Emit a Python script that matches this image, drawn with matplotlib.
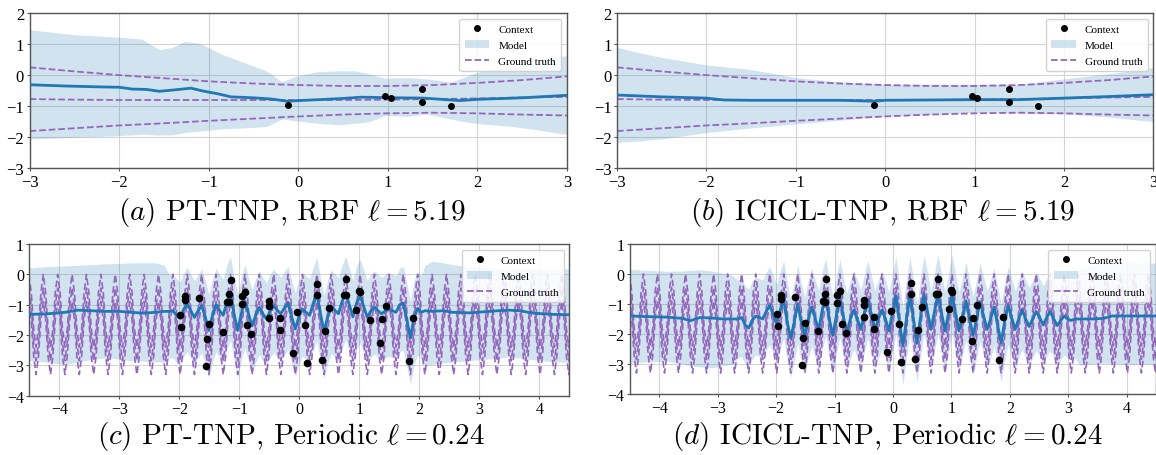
import numpy as np
import matplotlib.pyplot as plt
from matplotlib.patches import Patch
from matplotlib.lines import Line2D

plt.rcParams['font.family'] = ['Liberation Serif', 'DejaVu Serif']
plt.rcParams['mathtext.fontset'] = 'cm'

# ---------------- RBF panels (a, b) ----------------
rbf_ctx_x = [-0.12, 0.97, 1.03, 1.38, 1.38, 1.71]
rbf_ctx_y = [-0.96, -0.67, -0.74, -0.45, -0.88, -0.99]

rbf_gt_x = [-3, -2.5, -2, -1.5, -1, -0.5, 0, 0.5, 1, 1.5, 2, 2.5, 3]
rbf_gt_mean = [-0.77, -0.79, -0.8, -0.8, -0.8, -0.8, -0.8, -0.8, -0.79, -0.77, -0.75, -0.72, -0.7]
rbf_gt_up = [0.25, 0.12, 0.0, -0.1, -0.2, -0.27, -0.32, -0.35, -0.35, -0.32, -0.25, -0.16, -0.04]
rbf_gt_lo = [-1.8, -1.71, -1.62, -1.55, -1.47, -1.4, -1.33, -1.27, -1.23, -1.21, -1.23, -1.27, -1.3]

a_x = [-3, -2.6, -2.2, -2.0, -1.85, -1.7, -1.55, -1.4, -1.2, -1.05, -0.9, -0.75, -0.5,
       -0.3, -0.12, 0, 0.3, 0.5, 0.7, 0.9, 1.1, 1.4, 1.6, 1.8, 2.0, 2.5, 3.0]
a_mean = [-0.31, -0.35, -0.38, -0.39, -0.45, -0.46, -0.52, -0.48, -0.42, -0.52, -0.6, -0.7, -0.73,
          -0.77, -0.84, -0.82, -0.78, -0.75, -0.71, -0.72, -0.73, -0.74, -0.78, -0.82, -0.78, -0.73, -0.65]
a_band_x = [-3, -2.5, -2, -1.75, -1.55, -1.4, -1.27, -1.1, -0.86, -0.61, -0.36, -0.18, -0.03, 0.21,
            0.45, 0.63, 0.79, 0.97, 1.22, 1.43, 1.6, 1.7, 1.85, 2.05, 2.38, 2.72, 3.0]
a_up = [1.46, 1.3, 1.22, 1.16, 0.82, 0.9, 1.08, 1.02, 0.68, 0.41, 0.14, -0.21, -0.04, 0.11,
        0.14, 0.14, 0.04, -0.1, -0.08, -0.12, -0.18, -0.23, -0.07, 0.14, 0.3, 0.52, 0.63]
a_lo = [-2.06, -2.0, -1.95, -1.9, -1.93, -1.92, -1.85, -1.8, -1.73, -1.7, -1.66, -1.41, -1.47, -1.55,
        -1.6, -1.55, -1.5, -1.3, -1.33, -1.25, -1.35, -1.41, -1.5, -1.57, -1.65, -1.78, -1.92]

b_x = [-3, -2.5, -2.0, -1.8, -1.5, -1.0, -0.5, -0.12, 0, 0.5, 1.0, 1.5, 2.0, 2.5, 3.0]
b_mean = [-0.64, -0.7, -0.74, -0.8, -0.81, -0.81, -0.81, -0.84, -0.81, -0.8, -0.79, -0.79, -0.74, -0.69, -0.63]
b_band_x = [-3, -2.75, -2.5, -2.0, -1.5, -1.0, -0.5, 0, 0.5, 1.0, 1.5, 2.0, 2.5, 3.0]
b_up = [0.9, 0.72, 0.57, 0.33, 0.18, -0.08, -0.22, -0.29, -0.29, -0.29, -0.29, -0.12, 0.04, 0.25]
b_lo = [-2.16, -2.12, -2.05, -1.85, -1.7, -1.57, -1.45, -1.32, -1.27, -1.2, -1.22, -1.25, -1.35, -1.5]

# ---------------- Periodic panels (c, d) ----------------
per_ctx_x = [-1.99, -1.97, -1.91, -1.91, -1.67, -1.54, -1.55, -1.50, -1.28, -1.20, -1.17, -1.17,
             -1.14, -0.96, -0.96, -0.90, -0.87, -0.80, -0.50, -0.50, -0.50, -0.33, -0.33, -0.11,
             -0.04, 0.10, 0.13, 0.30, 0.30, 0.38, 0.42, 0.49, 0.74, 0.77, 0.77, 0.95, 1.01, 0.99,
             1.18, 1.37, 1.35, 1.44, 1.82, 1.89]
per_ctx_y = [-1.33, -1.73, -0.70, -0.84, -0.78, -2.12, -3.03, -1.64, -1.89, -0.90, -0.66, -0.92,
             -0.18, -0.70, -0.98, -0.57, -1.66, -1.97, -0.87, -1.04, -1.45, -1.43, -1.82, -2.59,
             -1.23, -1.67, -2.93, -0.31, -0.67, -2.82, -1.87, -1.11, -0.67, -0.67, -0.16, -1.16,
             -0.59, -0.54, -1.49, -1.48, -2.25, -1.05, -2.87, -1.45]

# one period of the ground truth mean (period 0.24, sampled every 0.04, starting at a peak)
per_gt_cycle = [-0.45, -1.05, -2.25, -2.85, -2.25, -1.05]
per_gt_first_peak = -4.51
per_gt_step = 0.04
per_gt_count = 227
per_gt_noise = 0.45

# panel c: left flat part, oscillating part (grid from -2.17, step 0.06), right flat part
c_left_x = [-4.5, -4.2, -3.9, -3.7, -3.46, -3.2, -3.0, -2.8, -2.6, -2.4, -2.25]
c_left_mean = [-1.32, -1.3, -1.25, -1.18, -1.2, -1.22, -1.22, -1.25, -1.28, -1.25, -1.22]
c_left_up = [0.22, 0.25, 0.28, 0.3, 0.32, 0.35, 0.36, 0.38, 0.38, 0.38, 0.3]
c_left_lo = [-2.84, -2.9, -2.97, -2.9, -2.8, -2.75, -2.8, -2.85, -2.86, -2.88, -2.9]
c_osc_start = -2.17
c_osc_mean = [-1.22, -1.2, -1.35, -1.45, -1.15, -0.98, -1.2, -1.42, -1.2, -1.03,
              -1.4, -1.85, -1.35, -1.0, -1.2, -1.35, -0.9, -0.62, -1.3, -1.85,
              -1.3, -0.87, -1.3, -1.7, -1.35, -1.09, -1.3, -1.47, -1.2, -1.03,
              -1.18, -1.3, -1.1, -0.95, -1.4, -1.8, -1.4, -1.15, -1.25, -1.35,
              -0.95, -0.65, -1.3, -1.88, -1.4, -1.05, -1.18, -1.3, -0.9, -0.6,
              -1.0, -1.4, -0.95, -0.7, -1.05, -1.42, -1.2, -1.08, -1.2, -1.3,
              -1.2, -1.15, -1.2, -1.25, -1.0, -0.95, -1.5, -2.1, -1.4, -1.12, -1.25]
c_osc_up_w = 1.2
c_osc_lo_w = 1.55
c_right_x = [2.09, 2.22, 2.4, 2.55, 2.83, 3.1, 3.3, 3.5, 3.67, 3.9, 4.22, 4.5]
c_right_mean = [-1.2, -1.22, -1.2, -1.25, -1.27, -1.23, -1.2, -1.18, -1.2, -1.28, -1.32, -1.33]
c_right_up = [0.3, 0.43, 0.38, 0.32, 0.25, 0.22, 0.2, 0.17, 0.16, 0.17, 0.18, 0.18]
c_right_lo = [-3.0, -2.97, -2.92, -2.9, -2.84, -2.8, -2.76, -2.73, -2.76, -2.82, -2.88, -2.9]

# panel d
d_left_x = [-4.5, -4.2, -3.86, -3.6, -3.47, -3.3, -3.1, -2.9, -2.75]
d_left_mean = [-1.4, -1.42, -1.44, -1.48, -1.56, -1.45, -1.47, -1.5, -1.5]
d_left_up = [0.15, 0.12, 0.09, 0.1, 0.12, 0.14, 0.1, 0.02, -0.05]
d_left_lo = [-2.97, -2.93, -2.91, -3.0, -3.07, -3.1, -3.13, -3.05, -3.02]
d_osc_start = -2.65
d_osc_mean = [-1.5, -1.45, -1.7, -1.8, -1.55, -1.4, -1.45, -1.5, -1.25, -1.05,
              -1.35, -1.65, -1.2, -0.85, -1.6, -2.15, -1.6, -1.0, -1.6, -2.05,
              -1.5, -1.1, -1.5, -1.85, -1.2, -0.78, -1.5, -2.05, -1.4, -0.8,
              -1.4, -1.95, -1.5, -1.2, -1.5, -1.85, -1.3, -0.85, -1.35, -1.85,
              -1.5, -1.2, -1.5, -1.9, -1.3, -0.72, -1.6, -2.4, -1.5, -0.72,
              -1.5, -2.3, -1.45, -0.68, -1.25, -1.85, -1.25, -0.67, -1.3, -1.9,
              -1.3, -0.68, -1.3, -1.9, -1.4, -0.9, -1.5, -2.05, -1.5, -0.92,
              -1.4, -1.85, -1.5, -1.1, -1.7, -2.3, -1.6, -1.05, -1.45, -1.85,
              -1.5, -1.2, -1.5, -1.75, -1.5, -1.25, -1.45, -1.7, -1.45, -1.25,
              -1.5, -1.72, -1.55, -1.4, -1.5, -1.55, -1.5]
d_osc_up_w = 1.3
d_osc_lo_w = 1.3
d_right_x = [3.2, 3.4, 3.6, 3.75, 4.0, 4.25, 4.5]
d_right_mean = [-1.5, -1.5, -1.48, -1.4, -1.4, -1.4, -1.4]
d_right_up = [0.2, 0.3, 0.35, 0.38, 0.38, 0.37, 0.36]
d_right_lo = [-3.05, -3.0, -2.97, -2.98, -3.02, -3.0, -3.0]

captions = [r"$(a)$ PT-TNP, RBF $\ell = 5.19$",
            r"$(b)$ ICICL-TNP, RBF $\ell = 5.19$",
            r"$(c)$ PT-TNP, Periodic $\ell = 0.24$",
            r"$(d)$ ICICL-TNP, Periodic $\ell = 0.24$"]

BLUE = '#1f77b4'
PURPLE = '#9467bd'


def build_periodic(left_x, left_mean, left_up, left_lo, start, osc_mean, up_w, lo_w,
                   right_x, right_mean, right_up, right_lo):
    osc_mean = np.array(osc_mean)
    osc_x = start + 0.06 * np.arange(len(osc_mean))
    x = np.concatenate([left_x, osc_x, right_x])
    m = np.concatenate([left_mean, osc_mean, right_mean])
    up = np.concatenate([left_up, osc_mean + up_w, right_up])
    lo = np.concatenate([left_lo, osc_mean - lo_w, right_lo])
    return x, m, up, lo


def style_axes(ax, tick_size):
    ax.grid(True, color='#d4d4d4', lw=0.8)
    ax.set_axisbelow(True)
    for s in ax.spines.values():
        s.set_color('#555555')
        s.set_linewidth(1.0)
    ax.tick_params(length=2, labelsize=tick_size, pad=2, color='#555555')
    handles = [Line2D([], [], marker='o', ls='', color='k', markersize=4),
               Patch(facecolor=BLUE, alpha=0.2),
               Line2D([], [], ls='--', color=PURPLE, lw=1.3)]
    ax.legend(handles, ['Context', 'Model', 'Ground truth'], loc='upper right',
              fontsize=8, framealpha=0.85, edgecolor='#cccccc', borderpad=0.5,
              handlelength=2.2, labelspacing=0.55)


fig = plt.figure(figsize=(11.56, 4.56), dpi=100)

# top row
ax_a = fig.add_axes([0.0256, 0.6287, 0.4649, 0.3406])
ax_b = fig.add_axes([0.5337, 0.6287, 0.4641, 0.3406])
top_data = [(ax_a, a_band_x, a_up, a_lo, a_x, a_mean), (ax_b, b_band_x, b_up, b_lo, b_x, b_mean)]
for ax, bx, bu, bl, mx, mm in top_data:
    ax.fill_between(bx, bl, bu, color=BLUE, alpha=0.2, lw=0, zorder=1)
    for gy in (rbf_gt_up, rbf_gt_mean, rbf_gt_lo):
        ax.plot(rbf_gt_x, gy, ls='--', color=PURPLE, lw=1.3, zorder=2)
    ax.plot(mx, mm, color=BLUE, lw=2, zorder=3)
    ax.scatter(rbf_ctx_x, rbf_ctx_y, s=16, color='k', zorder=4)
    ax.set_xlim(-3, 3)
    ax.set_ylim(-3, 2)
    ax.set_xticks(range(-3, 4))
    ax.set_yticks(range(-3, 3))
    style_axes(ax, 12)

# bottom row
gt_x = per_gt_first_peak + per_gt_step * np.arange(per_gt_count)
gt_y = np.resize(np.array(per_gt_cycle), per_gt_count)

ax_c = fig.add_axes([0.0255, 0.1300, 0.4671, 0.3327])
ax_d = fig.add_axes([0.5450, 0.1338, 0.4550, 0.3290])
c_series = build_periodic(c_left_x, c_left_mean, c_left_up, c_left_lo, c_osc_start, c_osc_mean,
                          c_osc_up_w, c_osc_lo_w, c_right_x, c_right_mean, c_right_up, c_right_lo)
d_series = build_periodic(d_left_x, d_left_mean, d_left_up, d_left_lo, d_osc_start, d_osc_mean,
                          d_osc_up_w, d_osc_lo_w, d_right_x, d_right_mean, d_right_up, d_right_lo)
for ax, (px, pm, pu, pl) in [(ax_c, c_series), (ax_d, d_series)]:
    ax.fill_between(px, pl, pu, color=BLUE, alpha=0.2, lw=0, zorder=1)
    for off in (per_gt_noise, 0, -per_gt_noise):
        ax.plot(gt_x, gt_y + off, ls='--', color=PURPLE, lw=1.2, dashes=(4, 2), zorder=2)
    ax.plot(px, pm, color=BLUE, lw=2, zorder=3)
    ax.scatter(per_ctx_x, per_ctx_y, s=20, color='k', zorder=4)
    ax.set_xlim(-4.5, 4.5)
    ax.set_ylim(-4, 1)
    ax.set_xticks(range(-4, 5))
    ax.set_yticks(range(-4, 2))
    style_axes(ax, 11.5)

cap_pos = [(0.252, 0.533), (0.763, 0.533), (0.252, 0.042), (0.768, 0.042)]
for (cx, cy), txt in zip(cap_pos, captions):
    fig.text(cx, cy, txt, ha='center', va='center', fontsize=21, family='cmr10')

fig.savefig('out.png', dpi=100)
